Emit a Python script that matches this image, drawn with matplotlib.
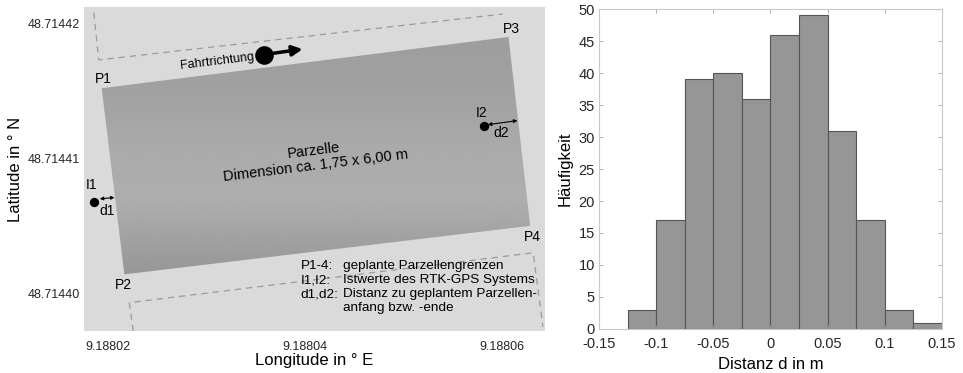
import numpy as np
import matplotlib.pyplot as plt
from matplotlib.patches import Polygon

plt.rcParams['font.family'] = ['Liberation Sans', 'DejaVu Sans']

###############################################################################
# Left panel: plot corners (lon, lat)
corner_names = ['P1', 'P3', 'P4', 'P2']
corner_lon = [9.1880194, 9.1880607, 9.1880629, 9.1880217]
corner_lat = [48.7144152, 48.7144190, 48.7144050, 48.7144014]
corner_lab_lon = [9.1880196, 9.1880610, 9.1880631, 9.1880216]
corner_lab_lat = [48.7144159, 48.7144196, 48.7144042, 48.7144006]

# dashed neighbouring plot borders
dash_top_lon = [9.1880186, 9.1880191, 9.1880601]
dash_top_lat = [48.7144208, 48.7144173, 48.7144207]
dash_bot_lon = [9.1880226, 9.1880222, 9.1880632, 9.1880642]
dash_bot_lat = [48.7143972, 48.7143993, 48.7144030, 48.7143975]

# RTK-GPS actual values
ist_names = ['I1', 'I2']
ist_lon = [9.1880186, 9.1880582]
ist_lat = [48.7144068, 48.7144124]
ist_lab_lon = [9.1880184, 9.1880580]
ist_lab_lat = [48.7144080, 48.7144134]

# distances d1, d2 (arrow start/end)
d_names = ['d1', 'd2']
d_lon0 = [9.1880192, 9.1880586]
d_lon1 = [9.1880207, 9.1880616]
d_lat0 = [48.7144070, 48.7144125]
d_lat1 = [48.7144071, 48.7144128]
d_lab_lon = [9.1880199, 9.1880600]
d_lab_lat = [48.7144061, 48.7144119]

# driving direction
fahrt_lon = [9.1880359, 9.1880398]
fahrt_lat = [48.7144177, 48.7144181]

xticks_l = [9.18802, 9.18804, 9.18806]
yticks_l = [48.71440, 48.71441, 48.71442]

# Right panel: histogram of distances
bin_edges = [-0.125, -0.1, -0.075, -0.05, -0.025, 0.0, 0.025, 0.05, 0.075, 0.1, 0.125, 0.15]
counts = [3, 17, 39, 40, 36, 46, 49, 31, 17, 3, 1]
xticks_r = [-0.15, -0.1, -0.05, 0, 0.05, 0.1, 0.15]
###############################################################################

xlim_l = (9.1880176, 9.1880644)
ylim_l = (48.7143972, 48.7144212)

fig = plt.figure(figsize=(9.63, 3.73), dpi=100)
ax1 = fig.add_axes([0.0872, 0.1126, 0.4787, 0.8678])
ax2 = fig.add_axes([0.622, 0.118, 0.3562, 0.8578])

# ---------------- left panel
ax1.set_facecolor('#dadada')
ax1.set_xlim(xlim_l)
ax1.set_ylim(ylim_l)

poly = Polygon(np.column_stack([corner_lon, corner_lat]), closed=True,
               facecolor='none', edgecolor='none')
ax1.add_patch(poly)
# vertical gradient, light band in the middle
t = np.linspace(0, 1, 200)
grad = np.interp(t, [0.0, 0.25, 0.45, 0.6, 0.8, 1.0],
                 [0.61, 0.63, 0.67, 0.68, 0.60, 0.53])
img = ax1.imshow(grad[:, None], cmap='gray', vmin=0, vmax=1, aspect='auto',
                 extent=[xlim_l[0], xlim_l[1], ylim_l[0], ylim_l[1]],
                 origin='upper', interpolation='bilinear', zorder=1)
img.set_clip_path(poly)

ax1.plot(dash_top_lon, dash_top_lat, ls=(0, (5, 4)), color='#9a9a9a', lw=0.9, zorder=2)
ax1.plot(dash_bot_lon, dash_bot_lat, ls=(0, (5, 4)), color='#9a9a9a', lw=0.9, zorder=2)

for name, lo, la in zip(corner_names, corner_lab_lon, corner_lab_lat):
    ax1.text(lo, la, name, fontsize=10, ha='center', va='center', zorder=4)

# actual points + distance arrows
ax1.scatter(ist_lon, ist_lat, s=45, color='black', zorder=5, linewidths=0)
for name, lo, la in zip(ist_names, ist_lab_lon, ist_lab_lat):
    ax1.text(lo, la, name, fontsize=10, ha='center', va='center', zorder=4)
for i in range(2):
    ax1.annotate('', xy=(d_lon1[i], d_lat1[i]), xytext=(d_lon0[i], d_lat0[i]),
                 arrowprops=dict(arrowstyle='<|-|>', color='black', lw=0.8,
                                 mutation_scale=5, shrinkA=0, shrinkB=0), zorder=5)
    ax1.text(d_lab_lon[i], d_lab_lat[i], d_names[i], fontsize=10, ha='center', va='center')

# driving direction
ax1.text(9.1880311, 48.7144172, 'Fahrtrichtung', fontsize=9, rotation=7,
         ha='center', va='center')
ax1.scatter(fahrt_lon[:1], fahrt_lat[:1], s=180, color='black', zorder=5, linewidths=0)
ax1.annotate('', xy=(fahrt_lon[1], fahrt_lat[1]), xytext=(fahrt_lon[0], fahrt_lat[0]),
             arrowprops=dict(arrowstyle='-|>', color='black', lw=2.5,
                             mutation_scale=15, shrinkA=0, shrinkB=0), zorder=5)

ax1.text(9.1880410, 48.7144100, 'Parzelle\nDimension ca. 1,75 x 6,00 m', fontsize=10.5,
         rotation=7, ha='center', va='center', linespacing=1.15, zorder=4)

# explanation block
leg_keys = ['P1-4:', 'I1,I2:', 'd1,d2:', '']
leg_vals = ['geplante Parzellengrenzen', 'Istwerte des RTK-GPS Systems',
            'Distanz zu geplantem Parzellen-', 'anfang bzw. -ende']
for i, (k, v) in enumerate(zip(leg_keys, leg_vals)):
    y = 48.7144020 - i * 0.00000104
    ax1.text(9.1880396, y, k, fontsize=9.7, ha='left', va='center', zorder=4)
    ax1.text(9.1880439, y, v, fontsize=9.7, ha='left', va='center', zorder=4)

ax1.set_xticks(xticks_l)
ax1.set_xticklabels(['%.5f' % v for v in xticks_l])
ax1.set_yticks(yticks_l)
ax1.set_yticklabels(['%.5f' % v for v in yticks_l])
ax1.tick_params(axis='x', length=0, labelsize=9, colors='#262626', pad=7)
ax1.tick_params(axis='y', length=0, labelsize=9, colors='#262626', pad=3)
for s in ax1.spines.values():
    s.set_visible(False)
ax1.set_xlabel('Longitude in ° E', fontsize=12)
ax1.set_ylabel('Latitude in ° N', fontsize=12)
ax1.yaxis.set_label_coords(-0.132, 0.5)
ax1.xaxis.set_label_coords(0.5, -0.068)

# ---------------- right panel
ax2.hist(bin_edges[:-1], bins=bin_edges, weights=counts, color='#969696',
         edgecolor='#555555', linewidth=0.8)
ax2.set_xlim(-0.15, 0.15)
ax2.set_ylim(0, 50)
ax2.set_xticks(xticks_r)
ax2.set_xticklabels(['%g' % v for v in xticks_r])
ax2.set_yticks(range(0, 51, 5))
ax2.tick_params(direction='in', top=True, right=True, length=3, labelsize=10.5,
                labelcolor='#262626', color='#a0a0a0', width=0.6)
ax2.tick_params(axis='x', pad=6)
ax2.tick_params(axis='y', pad=3)
for s in ax2.spines.values():
    s.set_color('#c8c8c8')
    s.set_linewidth(0.8)
ax2.set_xlabel('Distanz d in m', fontsize=12)
ax2.set_ylabel('Häufigkeit', fontsize=12)

fig.savefig('out.png', dpi=100)
